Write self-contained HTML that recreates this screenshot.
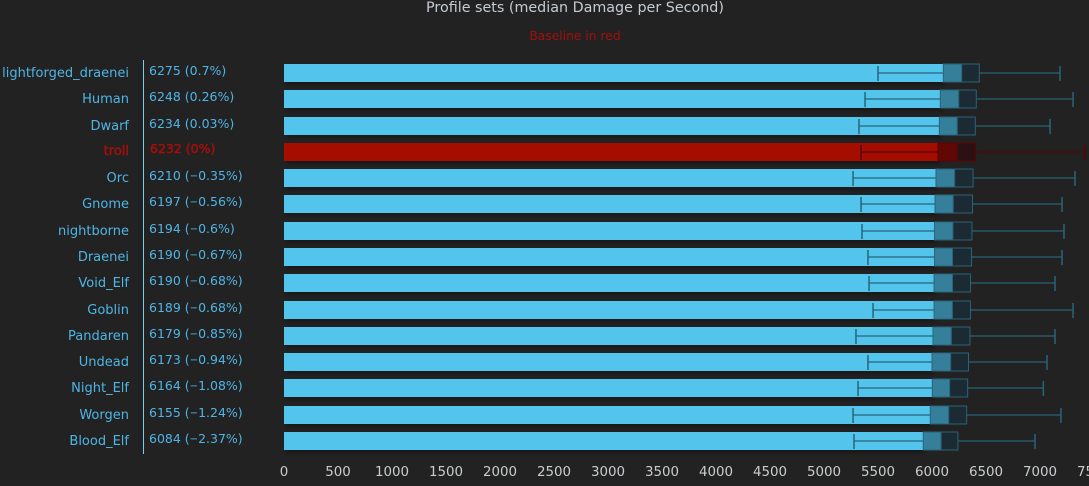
<!DOCTYPE html>
<html lang="en">
<head>
<meta charset="utf-8">
<title>Profile sets (median Damage per Second)</title>
<style>
html,body{margin:0;padding:0;background:#222222;width:1089px;height:486px;overflow:hidden}
svg{display:block;font-family:"DejaVu Sans","Liberation Sans",sans-serif}
</style>
</head>
<body>
<svg id="chart" xmlns="http://www.w3.org/2000/svg" width="1089" height="486" viewBox="0 0 1089 486">
<defs>
<filter id="bar-shadow" x="-5%" y="-30%" width="110%" height="170%">
<feDropShadow dx="2" dy="3" stdDeviation="2" flood-color="#000000" flood-opacity="0.3"/>
</filter>
</defs>
<rect x="0" y="0" width="1089" height="486" fill="#222222"/>
<text x="575" y="12" text-anchor="middle" font-size="14.3" fill="#c4ccd2">Profile sets (median Damage per Second)</text>
<text x="575" y="40" text-anchor="middle" font-size="12.3" fill="#a30f0b">Baseline in red</text>
<line x1="143.5" y1="60" x2="143.5" y2="454" stroke="#7ccbeb" stroke-width="1"/>
<g id="rows"></g>
<g id="x-axis"></g>
</svg>
<script>
const categories = ["lightforged_draenei","Human","Dwarf","troll","Orc","Gnome","nightborne","Draenei","Void_Elf","Goblin","Pandaren","Undead","Night_Elf","Worgen","Blood_Elf"];
const medians = [6275,6248,6234,6232,6210,6197,6194,6190,6190,6189,6179,6173,6164,6155,6084];
const percents = ["0.7%","0.26%","0.03%","0%","−0.35%","−0.56%","−0.6%","−0.67%","−0.68%","−0.68%","−0.85%","−0.94%","−1.08%","−1.24%","−2.37%"];
const whiskerLow = [5500,5380,5324,5343,5269,5343,5352,5407,5417,5454,5296,5407,5315,5269,5278];
const q1 = [6105,6077,6068,6056,6037,6028,6023,6023,6019,6019,6009,6000,6003,5984,5919];
const q3 = [6438,6410,6401,6403,6380,6375,6370,6366,6356,6356,6352,6338,6330,6321,6240];
const whiskerHigh = [7185,7306,7093,7417,7324,7204,7222,7204,7139,7306,7139,7065,7031,7194,6954];
const xTicks = [0,500,1000,1500,2000,2500,3000,3500,4000,4500,5000,5500,6000,6500,7000,7500];
const baselineName = "troll";

const NS = "http://www.w3.org/2000/svg";
const X0 = 284, PX_PER_UNIT = 0.108, ROW_TOP = 64, ROW_STEP = 26.29, BAR_H = 18;
const xScale = v => X0 + v * PX_PER_UNIT;
const yScale = i => Math.round(ROW_TOP + i * ROW_STEP);

function mk(tag, attrs, parent, text) {
  const el = document.createElementNS(NS, tag);
  for (const k in attrs) el.setAttribute(k, attrs[k]);
  if (text !== undefined) el.textContent = text;
  parent.appendChild(el);
  return el;
}

const rows = document.getElementById("rows");
categories.forEach((name, i) => {
  const base = name === baselineName;
  const top = yScale(i), mid = top + BAR_H / 2;
  const c = base
    ? {bar:"#a50e06", box1:"#630704", box2:"#2b1112", line:"#5a0505", text:"#a30f0b"}
    : {bar:"#53c5ec", box1:"#367f9a", box2:"#1b2a33", line:"#28647a", text:"#4fb5e6"};
  const weight = base ? {stroke:c.text, "stroke-width":0.45} : {};
  const textShift = base ? -1 : 0;

  const g = mk("g", {}, rows);
  
  

  const label = mk("text", Object.assign({x:129, y:top + 13 + textShift, "text-anchor":"end", "font-size":"13", fill:c.text}, weight), g, name);
  
  

  const value = mk("text", Object.assign({x:base ? 150 : 149, y:top + 11 + textShift, "font-size":"12.5", fill:c.text}, weight), g);
  
  
  const pct = percents[i];
  if (pct[0] === "−") {
    mk("tspan", {}, value, medians[i] + " (");
    mk("tspan", {"font-size":"10", dy:-0.8}, value, "−");
    mk("tspan", {dy:0.8}, value, pct.slice(1) + ")");
  } else {
    value.textContent = medians[i] + " (" + pct + ")";
  }

  const bar = mk("rect", {x:X0, y:top, width:xScale(q1[i]) - X0, height:BAR_H, fill:c.bar, filter:"url(#bar-shadow)"}, g);
  
  

  const lowLine = mk("line", {x1:xScale(whiskerLow[i]), x2:xScale(q1[i]), y1:mid, y2:mid, stroke:c.line, "stroke-width":1.3}, g);
  
  

  const lowCap = mk("line", {x1:xScale(whiskerLow[i]), x2:xScale(whiskerLow[i]), y1:top + 2, y2:top + 17, stroke:c.line, "stroke-width":1.5}, g);
  
  

  const highLine = mk("line", {x1:xScale(q3[i]), x2:xScale(whiskerHigh[i]), y1:mid, y2:mid, stroke:c.line, "stroke-width":1.3}, g);
  
  

  const highCap = mk("line", {x1:xScale(whiskerHigh[i]), x2:xScale(whiskerHigh[i]), y1:top + 2, y2:top + 17, stroke:c.line, "stroke-width":1.5}, g);
  
  

  const box1 = mk("rect", {x:xScale(q1[i]), y:top, width:xScale(medians[i]) - xScale(q1[i]), height:BAR_H, fill:c.box1, stroke:c.line, "stroke-width":1}, g);
  
  

  const box2 = mk("rect", {x:xScale(medians[i]), y:top, width:xScale(q3[i]) - xScale(medians[i]), height:BAR_H, fill:c.box2, stroke:c.line, "stroke-width":1}, g);
  
  
});

const axis = document.getElementById("x-axis");
xTicks.forEach(t => {
  const tick = mk("text", {x:xScale(t), y:476, "text-anchor":"middle", "font-size":"13.4", fill:"#c9ccce"}, axis, String(t));
  
  
});
</script>
</body>
</html>
